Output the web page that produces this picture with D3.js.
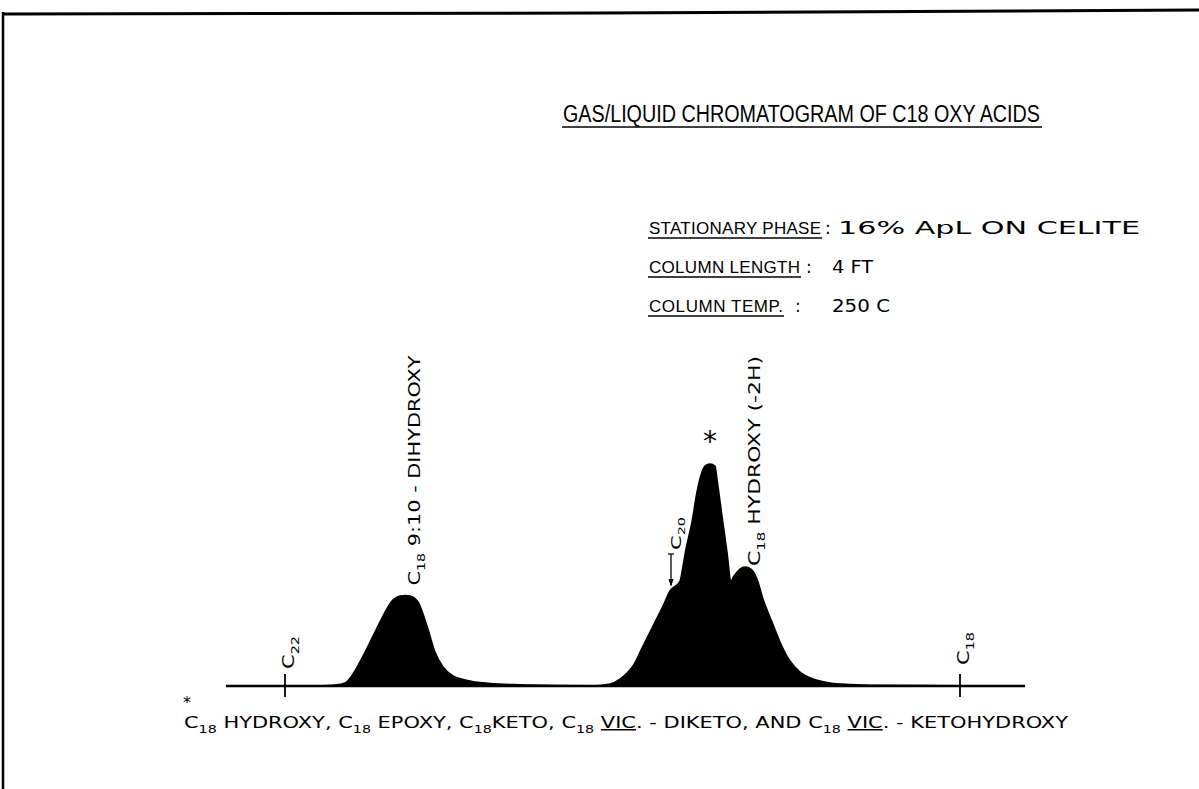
<!DOCTYPE html>
<html><head><meta charset="utf-8">
<script src="https://cdn.jsdelivr.net/npm/d3@7"></script>
<style>
html,body{margin:0;padding:0;background:#fff;}
svg{display:block;}
text{font-family:"DejaVu Sans", sans-serif; fill:#000;}
</style>
</head><body>
<svg id="chart" width="1199" height="789"></svg>
<script>
// ---------- DATA ----------
const titleText = "GAS/LIQUID CHROMATOGRAM OF C18 OXY ACIDS";

// chromatogram trace: retention (chart units) and detector response (chart units)
const retention = [0, 72, 92, 107, 117, 125, 135, 145, 155, 164, 172, 177, 182, 190, 199, 207, 215, 225, 242, 262, 292, 332, 362,
  372, 382, 392, 399, 405, 415, 425, 435, 442, 452, 455, 458, 464, 469, 474, 477, 482, 487, 489, 494, 499, 503, 506, 512, 517,
  523, 529, 535, 544, 552, 562, 572, 585, 602, 622, 652, 732, 797];
const signal = [0, 0, 0.3, 1, 3, 12, 30, 50, 70, 85, 90, 90.5, 90, 84, 60, 34, 19, 10, 5, 2.5, 1.2, 0.5, 0.3,
  0.6, 2, 7, 13, 20, 40, 60, 80, 95, 105, 120, 137, 164, 194, 214, 220, 222, 220, 207, 170, 134, 105, 110, 117, 119,
  117, 107, 87, 64, 44, 25, 14, 7, 3, 1.5, 0.7, 0.3, 0];

// reference markers on the baseline
const markerCarbons = ["22", "18"];
const markerRetention = [57, 732];

// labelled peaks
const peakPrefix = ["18", "18"];
const peakNames = ["9:10 - DIHYDROXY", "HYDROXY (-2H)"];
const peakRetention = [177, 517];
const peakHeight = [90.5, 119];

const shoulderCarbon = "20";
const shoulderRetention = 443;
const shoulderHeight = 97;

const starRetention = 482;
const starHeight = 222;

// operating conditions
const conditionLabels = ["STATIONARY PHASE", "COLUMN LENGTH", "COLUMN TEMP."];
const conditionValues = ["16% ApL ON CELITE", "4 FT", "250 C"];

// footnote
const footnoteParts = [
  {t:"C"},{s:"18"},{t:" HYDROXY, "},{t:"C"},{s:"18"},{t:" EPOXY, "},{t:"C"},{s:"18"},{t:"KETO, "},
  {t:"C"},{s:"18"},{t:"  "},{u:"VIC"},{t:". - DIKETO, AND "},{t:"C"},{s:"18"},{t:"  "},{u:"VIC"},{t:". - KETOHYDROXY"}
];

// ---------- DRAWING ----------
const svg = d3.select("#chart");

// frame (page edges of the original drawing)
svg.append("path").attr("d", "M3,14 L600,13 L1199,10").attr("fill","none").attr("stroke","#000").attr("stroke-width",3);
svg.append("path").attr("d", "M3,12 L3,789").attr("fill","none").attr("stroke","#000").attr("stroke-width",2.5);

const x = d3.scaleLinear().domain([0, 797]).range([228, 1025]);
const y = d3.scaleLinear().domain([0, 222]).range([686, 464]);

const pts = retention.map((r, i) => [r, signal[i]]);

const area = d3.area().x(d => x(d[0])).y0(y(0)).y1(d => y(d[1])).curve(d3.curveMonotoneX);
const line = d3.line().x(d => x(d[0])).y(d => y(d[1])).curve(d3.curveMonotoneX);

svg.append("path").datum(pts).attr("d", area).attr("fill", "#000");
svg.append("path").datum(pts).attr("d", line).attr("fill", "none").attr("stroke", "#000").attr("stroke-width", 1.5);

// baseline
svg.append("line").attr("x1", x(-2)).attr("x2", x(797)).attr("y1", y(0)).attr("y2", y(0))
  .attr("stroke", "#000").attr("stroke-width", 2.5);

// helper for text with subscripts / underlines
function addParts(sel, parts, fs) {
  let shift = 0;
  parts.forEach(p => {
    const target = p.s ? fs * 0.32 : 0;
    const ts = sel.append("tspan").attr("dy", target - shift);
    shift = target;
    if (p.s) ts.attr("font-size", fs * 0.68).text(p.s);
    else if (p.u) ts.style("text-decoration", "underline").text(p.u);
    else ts.text(p.t);
  });
}

function rotLabel(px, py, parts, fs, len) {
  const t = svg.append("text")
    .attr("transform", `translate(${px},${py}) rotate(-90)`)
    .attr("font-size", fs)
    .attr("textLength", len).attr("lengthAdjust", "spacingAndGlyphs");
  addParts(t, parts, fs);
  return t;
}

// marker ticks and labels
markerRetention.forEach((r, i) => {
  svg.append("line").attr("x1", x(r)).attr("x2", x(r)).attr("y1", y(0) - 12).attr("y2", y(0) + 11)
    .attr("stroke", "#000").attr("stroke-width", 1.8);
  rotLabel(x(r) + 9, y(0) - 17 - (i === 1 ? 4 : 0), [{t:"C"},{s:markerCarbons[i]}], 15, 33);
});

// peak labels
rotLabel(x(peakRetention[0]) + 15, y(peakHeight[0]) - 10, [{t:"C"},{s:peakPrefix[0]},{t:" " + peakNames[0]}], 16, 230);
rotLabel(x(peakRetention[1]) + 15, y(peakHeight[1]) - 1, [{t:"C"},{s:peakPrefix[1]},{t:" " + peakNames[1]}], 16, 210);

// shoulder arrow + label
const ax = x(shoulderRetention);
svg.append("line").attr("x1", ax).attr("x2", ax).attr("y1", y(shoulderHeight) - 35).attr("y2", y(shoulderHeight) - 4)
  .attr("stroke", "#000").attr("stroke-width", 1.3);
svg.append("path")
  .attr("d", `M${ax - 2.5},${y(shoulderHeight) - 10} L${ax},${y(shoulderHeight) - 2} L${ax + 2.5},${y(shoulderHeight) - 10} Z`)
  .attr("fill", "#000");
svg.append("line").attr("x1", ax - 3).attr("x2", ax + 3).attr("y1", y(shoulderHeight) - 35).attr("y2", y(shoulderHeight) - 35)
  .attr("stroke", "#000").attr("stroke-width", 1.2);
rotLabel(ax + 10, y(shoulderHeight) - 39, [{t:"C"},{s:shoulderCarbon}], 14, 33);

// asterisk over main peak
svg.append("text").attr("x", x(starRetention)).attr("y", y(starHeight) - 13)
  .attr("text-anchor", "middle").attr("font-size", 28).text("*");

// title
svg.append("text").attr("x", 563).attr("y", 122).attr("font-size", 23)
  .style("font-family", "'Liberation Sans', sans-serif")
  .attr("textLength", 477).attr("lengthAdjust", "spacingAndGlyphs").text(titleText);
svg.append("line").attr("x1", 562).attr("x2", 1042).attr("y1", 127).attr("y2", 127)
  .attr("stroke", "#000").attr("stroke-width", 1.6);

// conditions block
const rowY = [234, 273, 312];
const labelLen = [172, 151, 134];
const valueX = [838, 832, 832];
const valueLen = [302, 41, 58];
const colonX = [825, 806, 795];
conditionLabels.forEach((lab, i) => {
  svg.append("text").attr("x", 649).attr("y", rowY[i]).attr("font-size", 17)
    .style("font-family", "'Liberation Sans', sans-serif")
    .attr("textLength", labelLen[i]).attr("lengthAdjust", "spacing").text(lab);
  svg.append("line").attr("x1", 648).attr("x2", 649 + labelLen[i] + 1).attr("y1", rowY[i] + 4).attr("y2", rowY[i] + 4)
    .attr("stroke", "#000").attr("stroke-width", 1.4);
  svg.append("text").attr("x", colonX[i]).attr("y", rowY[i]).attr("font-size", 17).text(":");
  svg.append("text").attr("x", valueX[i]).attr("y", rowY[i]).attr("font-size", 17)
    .attr("textLength", valueLen[i]).attr("lengthAdjust", "spacingAndGlyphs").text(conditionValues[i]);
});

// footnote
svg.append("text").attr("x", 187).attr("y", 708).attr("text-anchor", "middle").attr("font-size", 16).text("*");
const fn = svg.append("text").attr("x", 184).attr("y", 728).attr("font-size", 15)
  .attr("textLength", 884).attr("lengthAdjust", "spacingAndGlyphs");
addParts(fn, footnoteParts, 15);
</script>
</body></html>
